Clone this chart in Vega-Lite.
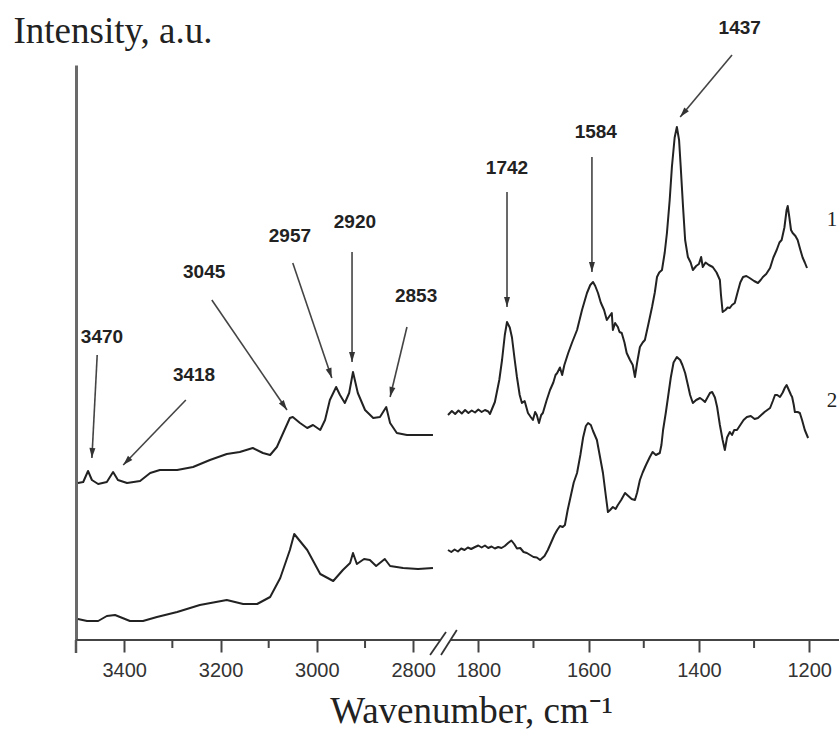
{
  "$schema": "https://vega.github.io/schema/vega-lite/v6.json",
  "autosize": {"type": "none"},
  "width": 763,
  "height": 575,
  "padding": {"left": 76, "top": 65, "right": 0, "bottom": 89},
  "background": "white",
  "config": {"view": {"stroke": null}},
  "datasets": {
    "spec": [
      {"series": "1", "part": "1L", "wn": 3496, "inten": 31.4},
      {"series": "1", "part": "1L", "wn": 3485, "inten": 31.6},
      {"series": "1", "part": "1L", "wn": 3475, "inten": 33.8},
      {"series": "1", "part": "1L", "wn": 3467, "inten": 32.0},
      {"series": "1", "part": "1L", "wn": 3454, "inten": 31.2},
      {"series": "1", "part": "1L", "wn": 3436, "inten": 31.6},
      {"series": "1", "part": "1L", "wn": 3423, "inten": 33.6},
      {"series": "1", "part": "1L", "wn": 3413, "inten": 32.0},
      {"series": "1", "part": "1L", "wn": 3394, "inten": 31.4},
      {"series": "1", "part": "1L", "wn": 3367, "inten": 31.8},
      {"series": "1", "part": "1L", "wn": 3346, "inten": 33.4},
      {"series": "1", "part": "1L", "wn": 3326, "inten": 34.0},
      {"series": "1", "part": "1L", "wn": 3290, "inten": 34.0},
      {"series": "1", "part": "1L", "wn": 3257, "inten": 34.6},
      {"series": "1", "part": "1L", "wn": 3222, "inten": 36.0},
      {"series": "1", "part": "1L", "wn": 3187, "inten": 37.2},
      {"series": "1", "part": "1L", "wn": 3160, "inten": 37.6},
      {"series": "1", "part": "1L", "wn": 3133, "inten": 38.4},
      {"series": "1", "part": "1L", "wn": 3112, "inten": 37.4},
      {"series": "1", "part": "1L", "wn": 3097, "inten": 37.0},
      {"series": "1", "part": "1L", "wn": 3083, "inten": 38.6},
      {"series": "1", "part": "1L", "wn": 3070, "inten": 41.4},
      {"series": "1", "part": "1L", "wn": 3056, "inten": 44.4},
      {"series": "1", "part": "1L", "wn": 3050, "inten": 44.6},
      {"series": "1", "part": "1L", "wn": 3035, "inten": 43.4},
      {"series": "1", "part": "1L", "wn": 3020, "inten": 42.4},
      {"series": "1", "part": "1L", "wn": 3008, "inten": 43.0},
      {"series": "1", "part": "1L", "wn": 2993, "inten": 42.0},
      {"series": "1", "part": "1L", "wn": 2983, "inten": 44.0},
      {"series": "1", "part": "1L", "wn": 2973, "inten": 48.0},
      {"series": "1", "part": "1L", "wn": 2960, "inten": 50.6},
      {"series": "1", "part": "1L", "wn": 2952, "inten": 49.0},
      {"series": "1", "part": "1L", "wn": 2942, "inten": 47.4},
      {"series": "1", "part": "1L", "wn": 2933, "inten": 49.4},
      {"series": "1", "part": "1L", "wn": 2925, "inten": 53.6},
      {"series": "1", "part": "1L", "wn": 2915, "inten": 49.4},
      {"series": "1", "part": "1L", "wn": 2900, "inten": 46.0},
      {"series": "1", "part": "1L", "wn": 2883, "inten": 44.4},
      {"series": "1", "part": "1L", "wn": 2869, "inten": 44.6},
      {"series": "1", "part": "1L", "wn": 2856, "inten": 46.6},
      {"series": "1", "part": "1L", "wn": 2848, "inten": 43.4},
      {"series": "1", "part": "1L", "wn": 2834, "inten": 41.4},
      {"series": "1", "part": "1L", "wn": 2813, "inten": 41.0},
      {"series": "1", "part": "1L", "wn": 2790, "inten": 41.0},
      {"series": "1", "part": "1L", "wn": 2759, "inten": 41.0},

      {"series": "2", "part": "2L", "wn": 3496, "inten": 4.2},
      {"series": "2", "part": "2L", "wn": 3477, "inten": 3.8},
      {"series": "2", "part": "2L", "wn": 3454, "inten": 3.8},
      {"series": "2", "part": "2L", "wn": 3436, "inten": 4.8},
      {"series": "2", "part": "2L", "wn": 3419, "inten": 5.0},
      {"series": "2", "part": "2L", "wn": 3388, "inten": 3.8},
      {"series": "2", "part": "2L", "wn": 3361, "inten": 3.8},
      {"series": "2", "part": "2L", "wn": 3332, "inten": 4.6},
      {"series": "2", "part": "2L", "wn": 3290, "inten": 5.6},
      {"series": "2", "part": "2L", "wn": 3243, "inten": 7.0},
      {"series": "2", "part": "2L", "wn": 3187, "inten": 8.0},
      {"series": "2", "part": "2L", "wn": 3153, "inten": 7.2},
      {"series": "2", "part": "2L", "wn": 3124, "inten": 7.2},
      {"series": "2", "part": "2L", "wn": 3097, "inten": 8.6},
      {"series": "2", "part": "2L", "wn": 3076, "inten": 12.4},
      {"series": "2", "part": "2L", "wn": 3056, "inten": 18.0},
      {"series": "2", "part": "2L", "wn": 3047, "inten": 21.2},
      {"series": "2", "part": "2L", "wn": 3020, "inten": 18.0},
      {"series": "2", "part": "2L", "wn": 2993, "inten": 13.2},
      {"series": "2", "part": "2L", "wn": 2966, "inten": 11.8},
      {"series": "2", "part": "2L", "wn": 2946, "inten": 14.0},
      {"series": "2", "part": "2L", "wn": 2931, "inten": 15.4},
      {"series": "2", "part": "2L", "wn": 2925, "inten": 17.4},
      {"series": "2", "part": "2L", "wn": 2917, "inten": 15.2},
      {"series": "2", "part": "2L", "wn": 2902, "inten": 16.2},
      {"series": "2", "part": "2L", "wn": 2890, "inten": 16.0},
      {"series": "2", "part": "2L", "wn": 2877, "inten": 14.8},
      {"series": "2", "part": "2L", "wn": 2859, "inten": 16.2},
      {"series": "2", "part": "2L", "wn": 2848, "inten": 14.8},
      {"series": "2", "part": "2L", "wn": 2821, "inten": 14.4},
      {"series": "2", "part": "2L", "wn": 2790, "inten": 14.2},
      {"series": "2", "part": "2L", "wn": 2759, "inten": 14.4},

      {"series": "1", "part": "1R", "wn": 1855, "inten": 45.0},
      {"series": "1", "part": "1R", "wn": 1848, "inten": 45.8},
      {"series": "1", "part": "1R", "wn": 1842, "inten": 45.2},
      {"series": "1", "part": "1R", "wn": 1836, "inten": 45.9},
      {"series": "1", "part": "1R", "wn": 1830, "inten": 45.3},
      {"series": "1", "part": "1R", "wn": 1824, "inten": 46.0},
      {"series": "1", "part": "1R", "wn": 1818, "inten": 45.4},
      {"series": "1", "part": "1R", "wn": 1812, "inten": 45.9},
      {"series": "1", "part": "1R", "wn": 1806, "inten": 45.5},
      {"series": "1", "part": "1R", "wn": 1800, "inten": 46.1},
      {"series": "1", "part": "1R", "wn": 1794, "inten": 45.6},
      {"series": "1", "part": "1R", "wn": 1788, "inten": 46.0},
      {"series": "1", "part": "1R", "wn": 1782, "inten": 45.7},
      {"series": "1", "part": "1R", "wn": 1779, "inten": 45.2},
      {"series": "1", "part": "1R", "wn": 1770, "inten": 47.6},
      {"series": "1", "part": "1R", "wn": 1762, "inten": 52.0},
      {"series": "1", "part": "1R", "wn": 1757, "inten": 56.0},
      {"series": "1", "part": "1R", "wn": 1752, "inten": 61.0},
      {"series": "1", "part": "1R", "wn": 1748, "inten": 63.6},
      {"series": "1", "part": "1R", "wn": 1743, "inten": 62.5},
      {"series": "1", "part": "1R", "wn": 1739, "inten": 60.5},
      {"series": "1", "part": "1R", "wn": 1734, "inten": 56.0},
      {"series": "1", "part": "1R", "wn": 1730, "inten": 52.6},
      {"series": "1", "part": "1R", "wn": 1725, "inten": 49.0},
      {"series": "1", "part": "1R", "wn": 1721, "inten": 47.4},
      {"series": "1", "part": "1R", "wn": 1716, "inten": 47.8},
      {"series": "1", "part": "1R", "wn": 1710, "inten": 45.4},
      {"series": "1", "part": "1R", "wn": 1705, "inten": 44.6},
      {"series": "1", "part": "1R", "wn": 1701, "inten": 44.0},
      {"series": "1", "part": "1R", "wn": 1697, "inten": 45.6},
      {"series": "1", "part": "1R", "wn": 1694, "inten": 45.0},
      {"series": "1", "part": "1R", "wn": 1690, "inten": 43.4},
      {"series": "1", "part": "1R", "wn": 1686, "inten": 45.0},
      {"series": "1", "part": "1R", "wn": 1683, "inten": 45.4},
      {"series": "1", "part": "1R", "wn": 1676, "inten": 48.0},
      {"series": "1", "part": "1R", "wn": 1670, "inten": 50.0},
      {"series": "1", "part": "1R", "wn": 1664, "inten": 51.5},
      {"series": "1", "part": "1R", "wn": 1660, "inten": 53.0},
      {"series": "1", "part": "1R", "wn": 1657, "inten": 53.4},
      {"series": "1", "part": "1R", "wn": 1652, "inten": 54.5},
      {"series": "1", "part": "1R", "wn": 1648, "inten": 53.0},
      {"series": "1", "part": "1R", "wn": 1644, "inten": 55.0},
      {"series": "1", "part": "1R", "wn": 1637, "inten": 57.4},
      {"series": "1", "part": "1R", "wn": 1630, "inten": 59.5},
      {"series": "1", "part": "1R", "wn": 1621, "inten": 62.0},
      {"series": "1", "part": "1R", "wn": 1612, "inten": 66.0},
      {"series": "1", "part": "1R", "wn": 1603, "inten": 69.4},
      {"series": "1", "part": "1R", "wn": 1597, "inten": 71.0},
      {"series": "1", "part": "1R", "wn": 1592, "inten": 71.6},
      {"series": "1", "part": "1R", "wn": 1588, "inten": 70.8},
      {"series": "1", "part": "1R", "wn": 1583, "inten": 69.4},
      {"series": "1", "part": "1R", "wn": 1578, "inten": 67.5},
      {"series": "1", "part": "1R", "wn": 1572, "inten": 66.0},
      {"series": "1", "part": "1R", "wn": 1567, "inten": 64.0},
      {"series": "1", "part": "1R", "wn": 1562, "inten": 64.8},
      {"series": "1", "part": "1R", "wn": 1558, "inten": 65.4},
      {"series": "1", "part": "1R", "wn": 1556, "inten": 62.0},
      {"series": "1", "part": "1R", "wn": 1552, "inten": 63.4},
      {"series": "1", "part": "1R", "wn": 1547, "inten": 62.6},
      {"series": "1", "part": "1R", "wn": 1544, "inten": 61.6},
      {"series": "1", "part": "1R", "wn": 1540, "inten": 61.4},
      {"series": "1", "part": "1R", "wn": 1535, "inten": 59.5},
      {"series": "1", "part": "1R", "wn": 1531, "inten": 57.4},
      {"series": "1", "part": "1R", "wn": 1525, "inten": 56.0},
      {"series": "1", "part": "1R", "wn": 1520, "inten": 55.0},
      {"series": "1", "part": "1R", "wn": 1516, "inten": 52.6},
      {"series": "1", "part": "1R", "wn": 1512, "inten": 55.5},
      {"series": "1", "part": "1R", "wn": 1507, "inten": 58.6},
      {"series": "1", "part": "1R", "wn": 1502, "inten": 59.5},
      {"series": "1", "part": "1R", "wn": 1498, "inten": 60.0},
      {"series": "1", "part": "1R", "wn": 1492, "inten": 63.0},
      {"series": "1", "part": "1R", "wn": 1485, "inten": 66.6},
      {"series": "1", "part": "1R", "wn": 1480, "inten": 69.5},
      {"series": "1", "part": "1R", "wn": 1476, "inten": 72.6},
      {"series": "1", "part": "1R", "wn": 1472, "inten": 73.5},
      {"series": "1", "part": "1R", "wn": 1467, "inten": 74.0},
      {"series": "1", "part": "1R", "wn": 1462, "inten": 77.5},
      {"series": "1", "part": "1R", "wn": 1458, "inten": 81.4},
      {"series": "1", "part": "1R", "wn": 1453, "inten": 88.0},
      {"series": "1", "part": "1R", "wn": 1449, "inten": 94.6},
      {"series": "1", "part": "1R", "wn": 1444, "inten": 100.5},
      {"series": "1", "part": "1R", "wn": 1440, "inten": 102.6},
      {"series": "1", "part": "1R", "wn": 1436, "inten": 100.0},
      {"series": "1", "part": "1R", "wn": 1433, "inten": 94.6},
      {"series": "1", "part": "1R", "wn": 1429, "inten": 87.0},
      {"series": "1", "part": "1R", "wn": 1425, "inten": 80.0},
      {"series": "1", "part": "1R", "wn": 1420, "inten": 76.6},
      {"series": "1", "part": "1R", "wn": 1415, "inten": 75.5},
      {"series": "1", "part": "1R", "wn": 1411, "inten": 74.0},
      {"series": "1", "part": "1R", "wn": 1405, "inten": 74.8},
      {"series": "1", "part": "1R", "wn": 1400, "inten": 75.2},
      {"series": "1", "part": "1R", "wn": 1396, "inten": 76.6},
      {"series": "1", "part": "1R", "wn": 1393, "inten": 74.6},
      {"series": "1", "part": "1R", "wn": 1388, "inten": 75.5},
      {"series": "1", "part": "1R", "wn": 1382, "inten": 75.0},
      {"series": "1", "part": "1R", "wn": 1375, "inten": 74.6},
      {"series": "1", "part": "1R", "wn": 1368, "inten": 73.5},
      {"series": "1", "part": "1R", "wn": 1362, "inten": 72.0},
      {"series": "1", "part": "1R", "wn": 1360, "inten": 69.0},
      {"series": "1", "part": "1R", "wn": 1357, "inten": 65.6},
      {"series": "1", "part": "1R", "wn": 1352, "inten": 66.0},
      {"series": "1", "part": "1R", "wn": 1348, "inten": 66.5},
      {"series": "1", "part": "1R", "wn": 1344, "inten": 66.4},
      {"series": "1", "part": "1R", "wn": 1340, "inten": 67.0},
      {"series": "1", "part": "1R", "wn": 1335, "inten": 67.4},
      {"series": "1", "part": "1R", "wn": 1330, "inten": 69.5},
      {"series": "1", "part": "1R", "wn": 1325, "inten": 71.5},
      {"series": "1", "part": "1R", "wn": 1320, "inten": 72.6},
      {"series": "1", "part": "1R", "wn": 1314, "inten": 72.8},
      {"series": "1", "part": "1R", "wn": 1308, "inten": 72.4},
      {"series": "1", "part": "1R", "wn": 1300, "inten": 71.8},
      {"series": "1", "part": "1R", "wn": 1293, "inten": 71.4},
      {"series": "1", "part": "1R", "wn": 1288, "inten": 72.0},
      {"series": "1", "part": "1R", "wn": 1284, "inten": 72.6},
      {"series": "1", "part": "1R", "wn": 1278, "inten": 73.2},
      {"series": "1", "part": "1R", "wn": 1271, "inten": 74.4},
      {"series": "1", "part": "1R", "wn": 1265, "inten": 76.5},
      {"series": "1", "part": "1R", "wn": 1259, "inten": 78.0},
      {"series": "1", "part": "1R", "wn": 1254, "inten": 79.5},
      {"series": "1", "part": "1R", "wn": 1250, "inten": 80.0},
      {"series": "1", "part": "1R", "wn": 1245, "inten": 82.5},
      {"series": "1", "part": "1R", "wn": 1241, "inten": 86.0},
      {"series": "1", "part": "1R", "wn": 1239, "inten": 86.8},
      {"series": "1", "part": "1R", "wn": 1236, "inten": 84.5},
      {"series": "1", "part": "1R", "wn": 1233, "inten": 82.0},
      {"series": "1", "part": "1R", "wn": 1230, "inten": 81.4},
      {"series": "1", "part": "1R", "wn": 1225, "inten": 80.8},
      {"series": "1", "part": "1R", "wn": 1221, "inten": 80.0},
      {"series": "1", "part": "1R", "wn": 1216, "inten": 78.0},
      {"series": "1", "part": "1R", "wn": 1212, "inten": 76.5},
      {"series": "1", "part": "1R", "wn": 1208, "inten": 75.5},
      {"series": "1", "part": "1R", "wn": 1204, "inten": 74.4},

      {"series": "2", "part": "2R", "wn": 1855, "inten": 18.0},
      {"series": "2", "part": "2R", "wn": 1849, "inten": 17.6},
      {"series": "2", "part": "2R", "wn": 1843, "inten": 18.1},
      {"series": "2", "part": "2R", "wn": 1837, "inten": 17.7},
      {"series": "2", "part": "2R", "wn": 1831, "inten": 18.3},
      {"series": "2", "part": "2R", "wn": 1825, "inten": 18.0},
      {"series": "2", "part": "2R", "wn": 1819, "inten": 18.5},
      {"series": "2", "part": "2R", "wn": 1813, "inten": 18.2},
      {"series": "2", "part": "2R", "wn": 1806, "inten": 18.6},
      {"series": "2", "part": "2R", "wn": 1800, "inten": 18.9},
      {"series": "2", "part": "2R", "wn": 1794, "inten": 18.5},
      {"series": "2", "part": "2R", "wn": 1788, "inten": 18.9},
      {"series": "2", "part": "2R", "wn": 1782, "inten": 18.4},
      {"series": "2", "part": "2R", "wn": 1776, "inten": 18.7},
      {"series": "2", "part": "2R", "wn": 1770, "inten": 18.3},
      {"series": "2", "part": "2R", "wn": 1764, "inten": 18.6},
      {"series": "2", "part": "2R", "wn": 1758, "inten": 18.4},
      {"series": "2", "part": "2R", "wn": 1752, "inten": 18.8},
      {"series": "2", "part": "2R", "wn": 1746, "inten": 19.4},
      {"series": "2", "part": "2R", "wn": 1740, "inten": 19.9},
      {"series": "2", "part": "2R", "wn": 1735, "inten": 19.2},
      {"series": "2", "part": "2R", "wn": 1730, "inten": 18.3},
      {"series": "2", "part": "2R", "wn": 1724, "inten": 18.4},
      {"series": "2", "part": "2R", "wn": 1718, "inten": 17.6},
      {"series": "2", "part": "2R", "wn": 1712, "inten": 17.4},
      {"series": "2", "part": "2R", "wn": 1706, "inten": 17.0},
      {"series": "2", "part": "2R", "wn": 1700, "inten": 16.6},
      {"series": "2", "part": "2R", "wn": 1694, "inten": 16.5},
      {"series": "2", "part": "2R", "wn": 1688, "inten": 16.0},
      {"series": "2", "part": "2R", "wn": 1684, "inten": 16.4},
      {"series": "2", "part": "2R", "wn": 1680, "inten": 16.8},
      {"series": "2", "part": "2R", "wn": 1674, "inten": 18.0},
      {"series": "2", "part": "2R", "wn": 1668, "inten": 19.5},
      {"series": "2", "part": "2R", "wn": 1662, "inten": 21.0},
      {"series": "2", "part": "2R", "wn": 1657, "inten": 22.0},
      {"series": "2", "part": "2R", "wn": 1652, "inten": 22.8},
      {"series": "2", "part": "2R", "wn": 1647, "inten": 22.6},
      {"series": "2", "part": "2R", "wn": 1643, "inten": 23.0},
      {"series": "2", "part": "2R", "wn": 1638, "inten": 26.0},
      {"series": "2", "part": "2R", "wn": 1632, "inten": 29.0},
      {"series": "2", "part": "2R", "wn": 1627, "inten": 31.5},
      {"series": "2", "part": "2R", "wn": 1621, "inten": 33.4},
      {"series": "2", "part": "2R", "wn": 1615, "inten": 37.0},
      {"series": "2", "part": "2R", "wn": 1610, "inten": 40.5},
      {"series": "2", "part": "2R", "wn": 1605, "inten": 42.8},
      {"series": "2", "part": "2R", "wn": 1601, "inten": 43.4},
      {"series": "2", "part": "2R", "wn": 1596, "inten": 43.0},
      {"series": "2", "part": "2R", "wn": 1592, "inten": 41.8},
      {"series": "2", "part": "2R", "wn": 1585, "inten": 40.0},
      {"series": "2", "part": "2R", "wn": 1580, "inten": 37.0},
      {"series": "2", "part": "2R", "wn": 1574, "inten": 33.4},
      {"series": "2", "part": "2R", "wn": 1569, "inten": 29.0},
      {"series": "2", "part": "2R", "wn": 1565, "inten": 25.6},
      {"series": "2", "part": "2R", "wn": 1561, "inten": 26.0},
      {"series": "2", "part": "2R", "wn": 1556, "inten": 26.6},
      {"series": "2", "part": "2R", "wn": 1551, "inten": 26.2},
      {"series": "2", "part": "2R", "wn": 1547, "inten": 27.0},
      {"series": "2", "part": "2R", "wn": 1541, "inten": 28.0},
      {"series": "2", "part": "2R", "wn": 1534, "inten": 29.4},
      {"series": "2", "part": "2R", "wn": 1528, "inten": 28.8},
      {"series": "2", "part": "2R", "wn": 1522, "inten": 28.2},
      {"series": "2", "part": "2R", "wn": 1516, "inten": 28.0},
      {"series": "2", "part": "2R", "wn": 1512, "inten": 29.5},
      {"series": "2", "part": "2R", "wn": 1507, "inten": 32.0},
      {"series": "2", "part": "2R", "wn": 1502, "inten": 33.5},
      {"series": "2", "part": "2R", "wn": 1496, "inten": 35.0},
      {"series": "2", "part": "2R", "wn": 1489, "inten": 36.6},
      {"series": "2", "part": "2R", "wn": 1484, "inten": 37.6},
      {"series": "2", "part": "2R", "wn": 1478, "inten": 37.0},
      {"series": "2", "part": "2R", "wn": 1471, "inten": 37.4},
      {"series": "2", "part": "2R", "wn": 1468, "inten": 39.0},
      {"series": "2", "part": "2R", "wn": 1465, "inten": 42.0},
      {"series": "2", "part": "2R", "wn": 1460, "inten": 45.5},
      {"series": "2", "part": "2R", "wn": 1456, "inten": 48.6},
      {"series": "2", "part": "2R", "wn": 1451, "inten": 52.5},
      {"series": "2", "part": "2R", "wn": 1446, "inten": 55.5},
      {"series": "2", "part": "2R", "wn": 1440, "inten": 56.6},
      {"series": "2", "part": "2R", "wn": 1434, "inten": 56.0},
      {"series": "2", "part": "2R", "wn": 1430, "inten": 55.0},
      {"series": "2", "part": "2R", "wn": 1425, "inten": 53.4},
      {"series": "2", "part": "2R", "wn": 1420, "inten": 51.0},
      {"series": "2", "part": "2R", "wn": 1416, "inten": 49.0},
      {"series": "2", "part": "2R", "wn": 1411, "inten": 47.4},
      {"series": "2", "part": "2R", "wn": 1405, "inten": 48.0},
      {"series": "2", "part": "2R", "wn": 1398, "inten": 48.4},
      {"series": "2", "part": "2R", "wn": 1393, "inten": 48.0},
      {"series": "2", "part": "2R", "wn": 1389, "inten": 47.6},
      {"series": "2", "part": "2R", "wn": 1384, "inten": 48.6},
      {"series": "2", "part": "2R", "wn": 1380, "inten": 49.4},
      {"series": "2", "part": "2R", "wn": 1376, "inten": 49.6},
      {"series": "2", "part": "2R", "wn": 1371, "inten": 48.5},
      {"series": "2", "part": "2R", "wn": 1367, "inten": 46.6},
      {"series": "2", "part": "2R", "wn": 1362, "inten": 43.0},
      {"series": "2", "part": "2R", "wn": 1357, "inten": 40.0},
      {"series": "2", "part": "2R", "wn": 1353, "inten": 38.0},
      {"series": "2", "part": "2R", "wn": 1349, "inten": 40.5},
      {"series": "2", "part": "2R", "wn": 1344, "inten": 41.6},
      {"series": "2", "part": "2R", "wn": 1340, "inten": 41.0},
      {"series": "2", "part": "2R", "wn": 1336, "inten": 42.0},
      {"series": "2", "part": "2R", "wn": 1331, "inten": 42.0},
      {"series": "2", "part": "2R", "wn": 1325, "inten": 43.0},
      {"series": "2", "part": "2R", "wn": 1319, "inten": 44.0},
      {"series": "2", "part": "2R", "wn": 1313, "inten": 44.6},
      {"series": "2", "part": "2R", "wn": 1306, "inten": 44.8},
      {"series": "2", "part": "2R", "wn": 1299, "inten": 44.2},
      {"series": "2", "part": "2R", "wn": 1293, "inten": 44.4},
      {"series": "2", "part": "2R", "wn": 1287, "inten": 45.0},
      {"series": "2", "part": "2R", "wn": 1281, "inten": 45.6},
      {"series": "2", "part": "2R", "wn": 1276, "inten": 46.0},
      {"series": "2", "part": "2R", "wn": 1271, "inten": 46.4},
      {"series": "2", "part": "2R", "wn": 1266, "inten": 47.8},
      {"series": "2", "part": "2R", "wn": 1262, "inten": 49.0},
      {"series": "2", "part": "2R", "wn": 1258, "inten": 49.0},
      {"series": "2", "part": "2R", "wn": 1253, "inten": 48.6},
      {"series": "2", "part": "2R", "wn": 1248, "inten": 49.5},
      {"series": "2", "part": "2R", "wn": 1244, "inten": 50.5},
      {"series": "2", "part": "2R", "wn": 1241, "inten": 51.0},
      {"series": "2", "part": "2R", "wn": 1237, "inten": 50.0},
      {"series": "2", "part": "2R", "wn": 1233, "inten": 49.0},
      {"series": "2", "part": "2R", "wn": 1231, "inten": 48.6},
      {"series": "2", "part": "2R", "wn": 1228, "inten": 47.0},
      {"series": "2", "part": "2R", "wn": 1226, "inten": 45.6},
      {"series": "2", "part": "2R", "wn": 1221, "inten": 45.6},
      {"series": "2", "part": "2R", "wn": 1217, "inten": 45.4},
      {"series": "2", "part": "2R", "wn": 1213, "inten": 44.0},
      {"series": "2", "part": "2R", "wn": 1208, "inten": 42.0},
      {"series": "2", "part": "2R", "wn": 1202, "inten": 40.4}
    ],
    "peaks": [
      {"label": "3470", "wn": 3456, "inten": 57.0, "wn_tip": 3467, "inten_tip": 36.4, "lwn": 3446, "linten": 60.6},
      {"label": "3418", "wn": 3272, "inten": 48.0, "wn_tip": 3402, "inten_tip": 35.0, "lwn": 3255, "linten": 53.0},
      {"label": "3045", "wn": 3218, "inten": 68.0, "wn_tip": 3062, "inten_tip": 46.0, "lwn": 3234, "linten": 73.6},
      {"label": "2957", "wn": 3050, "inten": 75.4, "wn_tip": 2969, "inten_tip": 52.4, "lwn": 3056, "linten": 80.8},
      {"label": "2920", "wn": 2927, "inten": 77.6, "wn_tip": 2927, "inten_tip": 55.6, "lwn": 2921, "linten": 83.6},
      {"label": "2853", "wn": 2813, "inten": 62.6, "wn_tip": 2848, "inten_tip": 48.6, "lwn": 2794, "linten": 68.8},
      {"label": "1742", "wn": 1748, "inten": 89.6, "wn_tip": 1748, "inten_tip": 66.6, "lwn": 1748, "linten": 94.4},
      {"label": "1584", "wn": 1594, "inten": 96.6, "wn_tip": 1594, "inten_tip": 73.6, "lwn": 1587, "linten": 101.6},
      {"label": "1437", "wn": 1340, "inten": 117.0, "wn_tip": 1434, "inten_tip": 104.6, "lwn": 1326, "linten": 122.4}
    ],
    "axisline": [
      {"wn": 3500, "wn2": 2524},
      {"wn": 1850, "wn2": 1146}
    ],
    "minor": [
      {"wn": 3300}, {"wn": 3100}, {"wn": 2900}, {"wn": 1700}, {"wn": 1500}, {"wn": 1300}
    ],
    "edge": [{"wn": 3500}],
    "breaks": [
      {"wn": 2765, "wn2": 2022, "inten": -3.0, "inten2": 1.6},
      {"wn": 2440, "wn2": 1839, "inten": -3.0, "inten2": 2.0}
    ],
    "names": [
      {"name": "1", "wn": 1168, "inten": 82.8},
      {"name": "2", "wn": 1168, "inten": 46.6}
    ]
  },
  "layer": [
    {
      "data": {"name": "spec"},
      "mark": {"type": "line", "color": "#222222", "strokeWidth": 2, "strokeJoin": "round"},
      "encoding": {
        "x": {
          "field": "wn", "type": "quantitative",
          "scale": {"domain": [3500, 2750, 1855, 1146], "range": [0, 361.3, 372, 763], "nice": false, "zero": false},
          "axis": {
            "title": "Wavenumber, cm⁻¹",
            "values": [3400, 3200, 3000, 2800, 1800, 1600, 1400, 1200],
            "format": "d",
            "domain": false, "grid": false,
            "ticks": true, "tickSize": 12, "tickWidth": 2, "tickColor": "#444444",
            "labelFont": "Liberation Sans", "labelFontSize": 20, "labelColor": "#333333", "labelPadding": 8,
            "labelFlush": false, "labelOverlap": false,
            "titleFont": "Liberation Serif", "titleFontSize": 37, "titleFontWeight": "normal", "titleColor": "#222222",
            "titleAlign": "center", "titleBaseline": "alphabetic", "titleX": 395, "titleY": 82
          }
        },
        "y": {
          "field": "inten", "type": "quantitative",
          "scale": {"domain": [0, 115], "nice": false, "zero": false},
          "axis": {
            "title": "Intensity, a.u.",
            "domain": true, "domainColor": "#6a6a6a", "domainWidth": 3,
            "ticks": false, "labels": false, "grid": false,
            "titleFont": "Liberation Serif", "titleFontSize": 37, "titleFontWeight": "normal", "titleColor": "#222222",
            "titleAngle": 0, "titleAlign": "left", "titleBaseline": "alphabetic", "titleX": -63, "titleY": -23
          }
        },
        "detail": {"field": "part"}
      }
    },
    {
      "data": {"name": "axisline"},
      "mark": {"type": "rule", "color": "#444444", "strokeWidth": 2.2},
      "encoding": {
        "x": {"field": "wn", "type": "quantitative"},
        "x2": {"field": "wn2"},
        "y": {"datum": 0}
      }
    },
    {
      "data": {"name": "minor"},
      "mark": {"type": "rule", "color": "#444444", "strokeWidth": 2},
      "encoding": {
        "x": {"field": "wn", "type": "quantitative"},
        "y": {"datum": 0},
        "y2": {"datum": -1.6}
      }
    },
    {
      "data": {"name": "edge"},
      "mark": {"type": "rule", "color": "#555555", "strokeWidth": 2.5},
      "encoding": {
        "x": {"field": "wn", "type": "quantitative"},
        "y": {"datum": 0},
        "y2": {"datum": -2.6}
      }
    },
    {
      "data": {"name": "breaks"},
      "mark": {"type": "rule", "color": "#333333", "strokeWidth": 1.8},
      "encoding": {
        "x": {"field": "wn", "type": "quantitative"},
        "x2": {"field": "wn2"},
        "y": {"field": "inten", "type": "quantitative"},
        "y2": {"field": "inten2"}
      }
    },
    {
      "data": {"name": "peaks"},
      "mark": {"type": "rule", "color": "#444444", "strokeWidth": 1.6},
      "encoding": {
        "x": {"field": "wn", "type": "quantitative"},
        "x2": {"field": "wn_tip"},
        "y": {"field": "inten", "type": "quantitative"},
        "y2": {"field": "inten_tip"}
      }
    },
    {
      "data": {"name": "peaks"},
      "transform": [
        {"calculate": "atan2((datum.wn_tip - datum.wn) / (datum.wn_tip > 2000 ? 2.076 : 1.8126), -5 * (datum.inten_tip - datum.inten)) * 180 / PI", "as": "ang"}
      ],
      "mark": {"type": "point", "shape": "M0,0L-0.6,-2L0.6,-2Z", "filled": true, "color": "#333333", "opacity": 1, "size": 100, "strokeWidth": 0},
      "encoding": {
        "x": {"field": "wn_tip", "type": "quantitative"},
        "y": {"field": "inten_tip", "type": "quantitative"},
        "angle": {"field": "ang", "type": "quantitative", "scale": null}
      }
    },
    {
      "data": {"name": "peaks"},
      "mark": {"type": "text", "font": "Liberation Sans", "fontWeight": "bold", "fontSize": 19, "color": "#222222", "align": "center", "baseline": "middle"},
      "encoding": {
        "x": {"field": "lwn", "type": "quantitative"},
        "y": {"field": "linten", "type": "quantitative"},
        "text": {"field": "label"}
      }
    },
    {
      "data": {"name": "names"},
      "mark": {"type": "text", "font": "Liberation Serif", "fontSize": 21, "color": "#222222", "align": "left", "baseline": "alphabetic"},
      "encoding": {
        "x": {"field": "wn", "type": "quantitative"},
        "y": {"field": "inten", "type": "quantitative"},
        "text": {"field": "name"}
      }
    }
  ]
}
